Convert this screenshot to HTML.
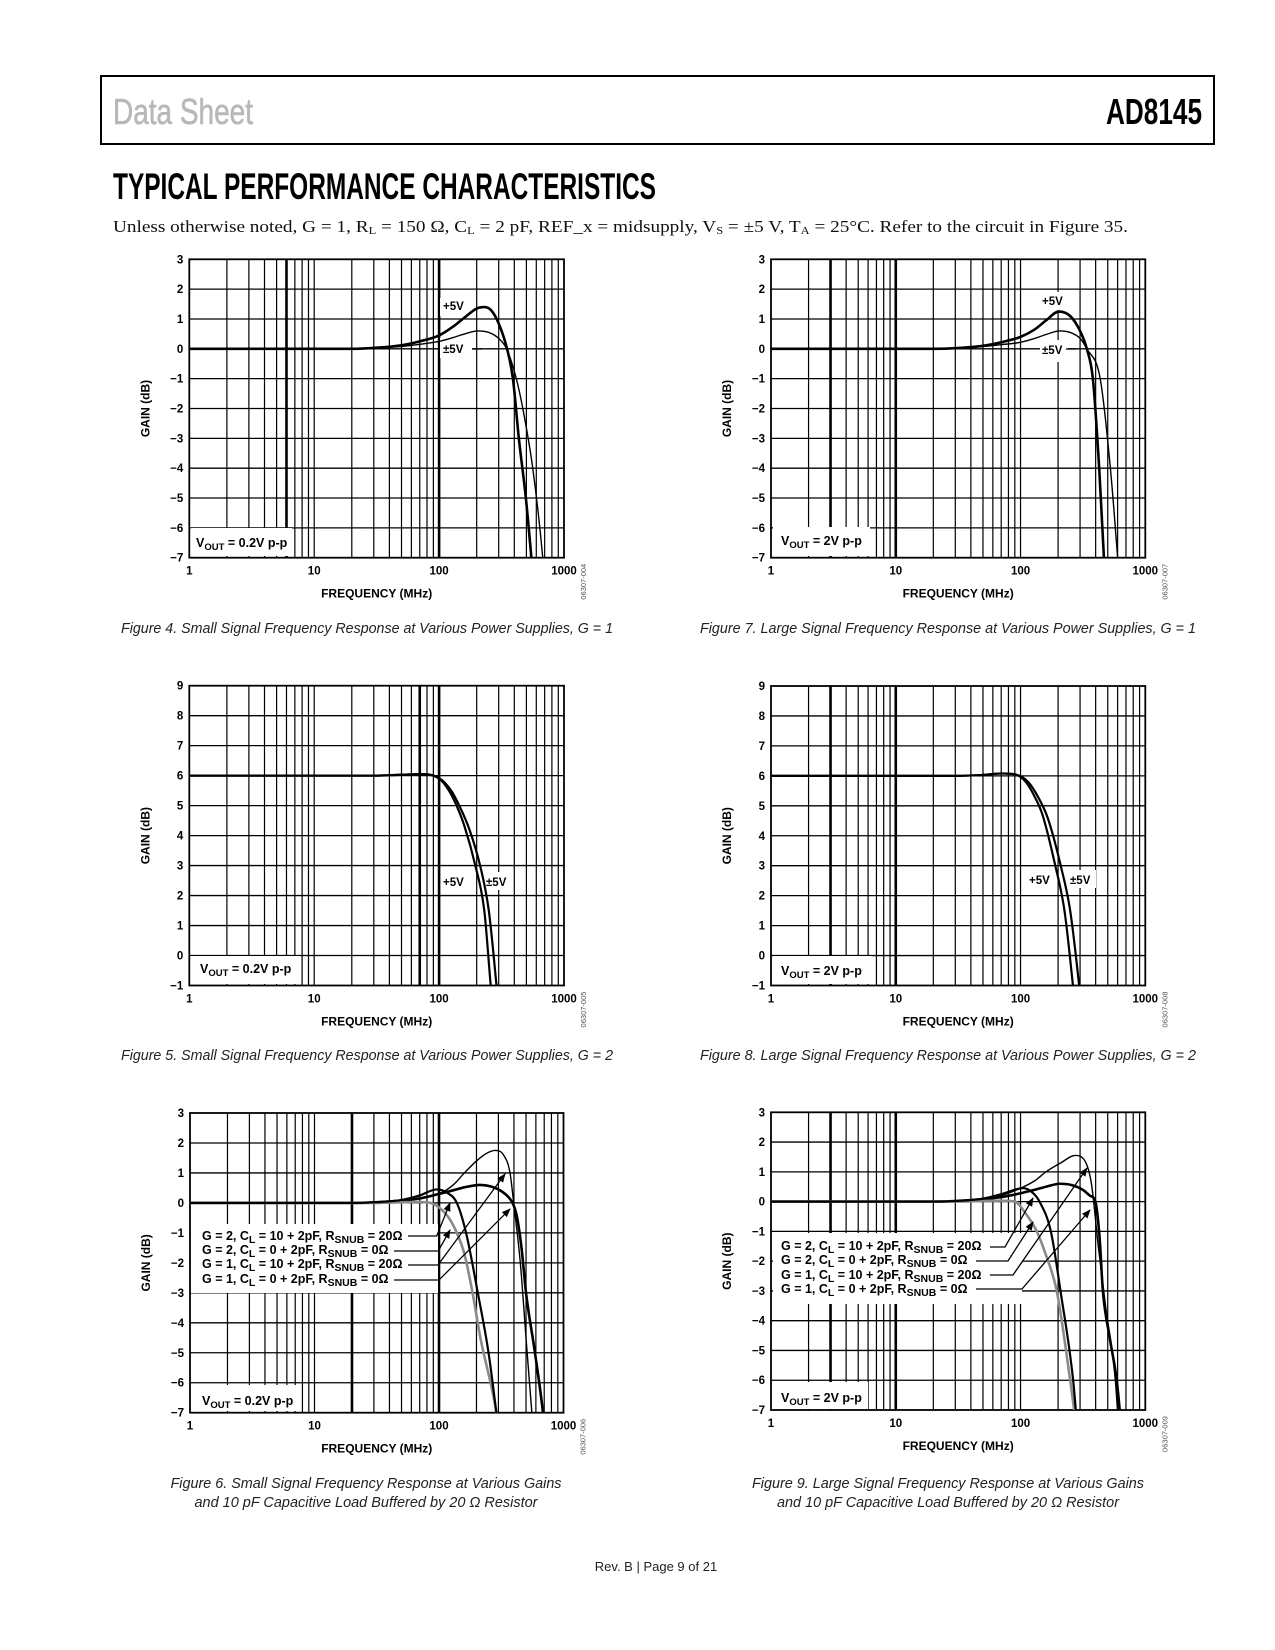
<!DOCTYPE html>
<html><head><meta charset="utf-8"><title>AD8145 Typical Performance Characteristics</title>
<style>
html,body{margin:0;padding:0;background:#fff;}
svg{display:block;}
.tk{font-family:"Liberation Sans",Arial,sans-serif;font-weight:bold;fill:#000;}
.cap{font-family:"Liberation Sans",Arial,sans-serif;font-style:italic;font-size:15px;fill:#222;}
</style></head>
<body>
<svg id="page" xmlns="http://www.w3.org/2000/svg" width="1275" height="1650" viewBox="0 0 1275 1650">
<rect x="0" y="0" width="1275" height="1650" fill="#fff"/>
<rect x="101" y="76" width="1113" height="68" fill="none" stroke="#000" stroke-width="2"/>
<text x="113" y="124" font-family="'Liberation Sans Narrow','Liberation Sans',sans-serif" font-size="36" fill="#b8b8b8" stroke="#b8b8b8" stroke-width="0.6" textLength="140" lengthAdjust="spacingAndGlyphs">Data Sheet</text>
<text x="1106" y="124" font-family="'Liberation Sans Narrow','Liberation Sans',sans-serif" font-weight="bold" font-size="36" fill="#000" textLength="96" lengthAdjust="spacingAndGlyphs">AD8145</text>
<text x="113" y="199" font-family="'Liberation Sans Narrow','Liberation Sans',sans-serif" font-weight="bold" font-size="37" fill="#000" textLength="543" lengthAdjust="spacingAndGlyphs">TYPICAL PERFORMANCE CHARACTERISTICS</text>
<text x="113" y="232" font-family="'Liberation Serif',serif" font-size="17" fill="#111" textLength="1015" lengthAdjust="spacingAndGlyphs">Unless otherwise noted, G = 1, R<tspan font-size="11" dy="2">L</tspan><tspan dy="-2"> = 150 Ω, C</tspan><tspan font-size="11" dy="2">L</tspan><tspan dy="-2"> = 2 pF, REF_x = midsupply, V</tspan><tspan font-size="11" dy="2">S</tspan><tspan dy="-2"> = ±5 V, T</tspan><tspan font-size="11" dy="2">A</tspan><tspan dy="-2"> = 25°C. Refer to the circuit in Figure 35.</tspan></text>

<text class="cap" x="367" y="633" text-anchor="middle" textLength="492" lengthAdjust="spacingAndGlyphs">Figure 4. Small Signal Frequency Response at Various Power Supplies, G = 1</text>
<text class="cap" x="948" y="633" text-anchor="middle" textLength="496" lengthAdjust="spacingAndGlyphs">Figure 7. Large Signal Frequency Response at Various Power Supplies, G = 1</text>
<text class="cap" x="367" y="1060" text-anchor="middle" textLength="492" lengthAdjust="spacingAndGlyphs">Figure 5. Small Signal Frequency Response at Various Power Supplies, G = 2</text>
<text class="cap" x="948" y="1060" text-anchor="middle" textLength="496" lengthAdjust="spacingAndGlyphs">Figure 8. Large Signal Frequency Response at Various Power Supplies, G = 2</text>
<text class="cap" x="366" y="1488" text-anchor="middle" textLength="391" lengthAdjust="spacingAndGlyphs">Figure 6. Small Signal Frequency Response at Various Gains</text>
<text class="cap" x="366" y="1507" text-anchor="middle" textLength="343" lengthAdjust="spacingAndGlyphs">and 10 pF Capacitive Load Buffered by 20 Ω Resistor</text>
<text class="cap" x="948" y="1488" text-anchor="middle" textLength="392" lengthAdjust="spacingAndGlyphs">Figure 9. Large Signal Frequency Response at Various Gains</text>
<text class="cap" x="948" y="1507" text-anchor="middle" textLength="342" lengthAdjust="spacingAndGlyphs">and 10 pF Capacitive Load Buffered by 20 Ω Resistor</text>
<text x="656" y="1571" text-anchor="middle" font-family="'Liberation Sans',sans-serif" font-size="13" fill="#222">Rev. B | Page 9 of 21</text>
<defs>
<marker id="arr" viewBox="0 0 10 10" refX="9" refY="5" markerWidth="9" markerHeight="9" markerUnits="userSpaceOnUse" orient="auto"><path d="M0,1 L10,5 L0,9 z" fill="#000"/></marker>
</defs>
</svg>
<script>
// ---------- data ----------
const xTickLabels = ['1','10','100','1000'];
const yTicksA = [3,2,1,0,-1,-2,-3,-4,-5,-6,-7];
const yTicksB = [9,8,7,6,5,4,3,2,1,0,-1];

// Figure 4
const f4PlusF  = [1,10,20,30,50,70,100,130,160,200,230,260,300,350,390,435,495,548,600];
const f4PlusG  = [0,0,0,0.03,0.12,0.25,0.45,0.75,1.05,1.35,1.4,1.3,0.85,0,-1,-3,-5,-7,-9];
const f4PmF    = [1,10,20,30,50,70,100,130,160,204,250,300,347,415,468,562,676,720];
const f4PmG    = [0,0,0,0.02,0.08,0.15,0.25,0.38,0.5,0.6,0.55,0.35,0,-1,-2,-4,-7,-8.5];
// Figure 7
const f7PlusF  = [1,10,20,30,50,70,100,130,160,203,250,300,340,380,427,466,500];
const f7PlusG  = [0,0,0,0.02,0.1,0.22,0.4,0.65,0.95,1.25,1.1,0.6,0,-1,-4,-7,-9];
const f7PmF    = [1,10,20,30,50,70,100,130,160,205,250,300,340,435,525,600,650];
const f7PmG    = [0,0,0,0.02,0.08,0.14,0.22,0.35,0.48,0.6,0.55,0.35,0,-1,-4,-7,-9];
// Figure 5
const f5PlusF  = [1,10,30,50,70,100,120,138,160,195,230,259,280];
const f5PlusG  = [6,6,6,6.03,6.05,5.9,5.5,5.0,4.3,3,1.5,-1,-2.5];
const f5PmF    = [1,10,30,50,70,100,125,145,175,213,250,288,310];
const f5PmG    = [6,6,6,6.03,6.05,5.92,5.5,5.0,4.2,3,1.5,-1,-2.5];
// Figure 8
const f8PlusF  = [1,10,30,50,70,90,110,130,150,190,225,263,285];
const f8PlusG  = [6,6,6,6.03,6.08,6.05,5.8,5.3,4.7,3,1.5,-1,-2.5];
const f8PmF    = [1,10,30,50,70,90,115,138,165,210,250,295,320];
const f8PmG    = [6,6,6,6.03,6.08,6.05,5.8,5.3,4.6,3,1.5,-1,-2.5];
// Figure 6
const f6G2C10F = [1,10,20,30,50,70,96,115,139,165,205,250,289,310];
const f6G2C10G = [0,0,0,0.02,0.1,0.25,0.45,0.35,0,-1,-3,-5,-7,-8];
const f6G2C0F  = [1,10,20,30,50,70,85,100,120,139,160,186,215,289,310];
const f6G2C0G  = [0,0,0,0,0.02,0.03,0,-0.15,-0.5,-1,-1.7,-3,-4.5,-7,-8];
const f6G1C10F = [1,10,20,30,50,70,100,130,160,200,240,282,330,372,398,450,500,557,600];
const f6G1C10G = [0,0,0,0.02,0.08,0.15,0.3,0.6,1.0,1.4,1.65,1.75,1.6,1.0,0,-2,-4.5,-7,-8.5];
const f6G1C0F  = [1,10,20,30,50,70,100,130,160,214,260,320,360,390,420,460,500,590,684,720];
const f6G1C0G  = [0,0,0,0.02,0.08,0.15,0.3,0.42,0.52,0.6,0.55,0.38,0.2,0,-0.4,-1.5,-3,-5,-7,-8];
// Figure 9
const f9G2C10F = [1,10,20,30,50,70,105,125,142,175,209,264,290];
const f9G2C10G = [0,0,0,0.02,0.1,0.25,0.45,0.3,0,-1,-3,-6,-8];
const f9G2C0F  = [1,10,30,50,70,90,110,135,160,195,250,290];
const f9G2C0G  = [0,0,0,0.02,0.03,0,-0.4,-1,-1.8,-3,-6,-8];
const f9G1C10F = [1,10,20,30,50,70,100,130,160,210,275,330,370,420,480,575,620];
const f9G1C10G = [0,0,0,0.02,0.1,0.2,0.45,0.7,1.0,1.3,1.55,1.35,0.6,-1.5,-3.5,-6,-8];
const f9G1C0F  = [1,10,20,30,50,70,100,130,160,207,260,320,360,398,430,457,520,590,640];
const f9G1C0G  = [0,0,0,0.02,0.08,0.15,0.28,0.4,0.5,0.6,0.55,0.38,0.2,0,-1.2,-3,-4.6,-6,-7.5];

// ---------- drawing ----------
const NS='http://www.w3.org/2000/svg';
const svg=document.getElementById('page');
function mk(tag,attrs,parent){const e=document.createElementNS(NS,tag);for(const k in attrs)e.setAttribute(k,attrs[k]);(parent||svg).appendChild(e);return e;}
function smooth(p){
  const n=p.length, d=[], m=new Array(n);
  for(let i=0;i<n-1;i++)d.push((p[i+1][1]-p[i][1])/(p[i+1][0]-p[i][0]));
  m[0]=d[0]; m[n-1]=d[n-2];
  for(let i=1;i<n-1;i++){ m[i]=(d[i-1]*d[i]<=0)?0:(d[i-1]+d[i])/2; }
  for(let i=0;i<n-1;i++){
    if(d[i]===0){m[i]=0;m[i+1]=0;continue;}
    const a=m[i]/d[i], b=m[i+1]/d[i], s=a*a+b*b;
    if(s>9){const t=3/Math.sqrt(s);m[i]=t*a*d[i];m[i+1]=t*b*d[i];}
  }
  let s='M'+p[0][0].toFixed(2)+','+p[0][1].toFixed(2);
  for(let i=0;i<n-1;i++){
    const h=(p[i+1][0]-p[i][0])/3;
    s+=' C'+(p[i][0]+h).toFixed(2)+','+(p[i][1]+m[i]*h).toFixed(2)+' '+(p[i+1][0]-h).toFixed(2)+','+(p[i+1][1]-m[i+1]*h).toFixed(2)+' '+p[i+1][0].toFixed(2)+','+p[i+1][1].toFixed(2);
  }
  return s;
}
let clipId=0;
function drawChart(c){
  const g=mk('g',{});
  
  
  const lx=f=>c.x0+Math.log10(f)*(c.x1-c.x0)/3;
  const ly=v=>c.y0+(c.ymax-v)*(c.y1-c.y0)/(c.ymax-c.ymin);
  const grid=mk('g',{stroke:'#000'},g);
  
  
  for(let k=0;k<3;k++){for(let m=1;m<=9;m++){
    if(k===0&&m===1)continue;
    const f=m*Math.pow(10,k);
    const thick=c.thick.indexOf(f)>=0;
    const ln=mk('line',{x1:lx(f),x2:lx(f),y1:c.y0,y2:c.y1,'stroke-width':thick?2.6:1.2},grid);
    
    
  }}
  const yt=c.yTicks;
  for(const v of yt){
    if(v!==c.ymin&&v!==c.ymax){
      const ln=mk('line',{x1:c.x0,x2:c.x1,y1:ly(v),y2:ly(v),'stroke-width':1.3},grid);
      
      
    }
    const t=mk('text',{x:c.x0-6,y:ly(v)+4,'text-anchor':'end',class:'tk',style:'font-size:11.5px'},g);
    t.textContent=(v<0?'\u2212'+(-v):String(v));
    
    
  }
  xTickLabels.forEach((s,i)=>{
    const t=mk('text',{x:lx(Math.pow(10,i)),y:c.y1+17,'text-anchor':'middle',class:'tk',style:'font-size:11.5px'},g);
    t.textContent=s;
    
    
  });
  for(const b of c.boxes){
    const r=mk('rect',{x:b[0],y:b[1],width:b[2]-b[0],height:b[3]-b[1],fill:'#fff'},g);
    
    
  }
  const fr=mk('rect',{x:c.x0,y:c.y0,width:c.x1-c.x0,height:c.y1-c.y0,fill:'none',stroke:'#000','stroke-width':1.8},g);
  
  
  const id='clip'+(clipId++);
  const cp=mk('clipPath',{id:id},g);
  mk('rect',{x:c.x0,y:c.y0,width:c.x1-c.x0,height:c.y1-c.y0},cp);
  for(const s of c.series){
    const pts=s.f.map((f,i)=>[lx(f),ly(s.g[i])]);
    const p=mk('path',{d:smooth(pts),fill:'none',stroke:s.color||'#000','stroke-width':s.w,'clip-path':'url(#'+id+')','stroke-linejoin':'round'},g);
    
    
  }
  for(const a of c.texts){
    const t=mk('text',{x:a[0],y:a[1],class:'tk',style:'font-size:'+(a[3]||12)+'px'},g);
    t.innerHTML=a[2];
    
    
  }
  for(const l of c.lines){
    const attrs={points:l.pts.map(p=>p.join(',')).join(' '),fill:'none',stroke:'#000','stroke-width':1.3};
    if(l.arrow)attrs['marker-end']='url(#arr)';
    const pl=mk('polyline',attrs,g);
    
    
  }
  const xt=mk('text',{x:(c.x0+c.x1)/2,y:c.y1+40,'text-anchor':'middle',class:'tk',style:'font-size:12px'},g);
  xt.textContent='FREQUENCY (MHz)';
  
  
  const ycx=c.x0-40,ycy=(c.y0+c.y1)/2;
  const ytt=mk('text',{x:ycx,y:ycy,'text-anchor':'middle',class:'tk',style:'font-size:12px',transform:'rotate(-90 '+ycx+' '+ycy+')'},g);
  ytt.textContent='GAIN (dB)';
  
  
  const ix=c.x1+22,iy=c.y1+24;
  const idt=mk('text',{x:ix,y:iy,'text-anchor':'middle','font-family':'Liberation Sans, sans-serif','font-size':7.5,fill:'#555',transform:'rotate(-90 '+ix+' '+iy+')'},g);
  idt.textContent=c.fig;
  
  
}
const V=(s)=>'V<tspan dy="3" style="font-size:9.5px">OUT</tspan><tspan dy="-3"> = '+s+'</tspan>';
const LG=(g,c,r)=>'G = '+g+', C<tspan dy="3" style="font-size:10.5px">L</tspan><tspan dy="-3"> = '+c+' + 2pF, R</tspan><tspan dy="3" style="font-size:10.5px">SNUB</tspan><tspan dy="-3"> = '+r+'Ω</tspan>';
const TH=2.6, TN=1.4;

drawChart({name:'figure-4-chart',fig:'06307-004',x0:189.3,x1:564,y0:259.3,y1:557.7,ymin:-7,ymax:3,yTicks:yTicksA,thick:[6,100],
  boxes:[[191,528,292,556],[440,298,470,316],[440,338,472,358]],
  series:[{name:'series-plus-5v',f:f4PlusF,g:f4PlusG,w:TH},{name:'series-pm-5v',f:f4PmF,g:f4PmG,w:TN}],
  texts:[[196,547,V('0.2V p-p'),12.5,'vout-label'],[443,310,'+5V',11.5,'label-plus-5v'],[443,353,'±5V',11.5,'label-pm-5v']],
  lines:[{pts:[[472,349],[482,349]]}]});
drawChart({name:'figure-7-chart',fig:'06307-007',x0:771,x1:1145.3,y0:259.3,y1:557.7,ymin:-7,ymax:3,yTicks:yTicksA,thick:[3,10],
  boxes:[[773,527,870,556],[1040,292,1066,310],[1040,340,1068,362]],
  series:[{name:'series-plus-5v',f:f7PlusF,g:f7PlusG,w:TH},{name:'series-pm-5v',f:f7PmF,g:f7PmG,w:TN}],
  texts:[[781,545,V('2V p-p'),12.5,'vout-label'],[1042,305,'+5V',11.5,'label-plus-5v'],[1042,354,'±5V',11.5,'label-pm-5v']],
  lines:[{pts:[[1066,349],[1076,349]]}]});
drawChart({name:'figure-5-chart',fig:'06307-005',x0:189.3,x1:564,y0:685.7,y1:985.5,ymin:-1,ymax:9,yTicks:yTicksB,thick:[70,100],
  boxes:[[191,956,300,984],[441,872,468,890],[484,872,512,890]],
  series:[{name:'series-plus-5v',f:f5PlusF,g:f5PlusG,w:2.2},{name:'series-pm-5v',f:f5PmF,g:f5PmG,w:2.2}],
  texts:[[200,973,V('0.2V p-p'),12.5,'vout-label'],[443,886,'+5V',11.5,'label-plus-5v'],[486,886,'±5V',11.5,'label-pm-5v']],
  lines:[]});
drawChart({name:'figure-8-chart',fig:'06307-008',x0:771,x1:1145.3,y0:686,y1:985.5,ymin:-1,ymax:9,yTicks:yTicksB,thick:[3,10],
  boxes:[[773,956,872,984],[1026,870,1053,888],[1068,870,1096,888]],
  series:[{name:'series-plus-5v',f:f8PlusF,g:f8PlusG,w:2.2},{name:'series-pm-5v',f:f8PmF,g:f8PmG,w:2.2}],
  texts:[[781,975,V('2V p-p'),12.5,'vout-label'],[1029,884,'+5V',11.5,'label-plus-5v'],[1070,884,'±5V',11.5,'label-pm-5v']],
  lines:[]});
drawChart({name:'figure-6-chart',fig:'06307-006',x0:190,x1:563.5,y0:1113,y1:1412.7,ymin:-7,ymax:3,yTicks:yTicksA,thick:[20,100],
  boxes:[[191,1224,438,1293],[191,1385,300,1411]],
  series:[{name:'series-g1-cl0',f:f6G1C0F,g:f6G1C0G,w:TH},{name:'series-g1-cl10',f:f6G1C10F,g:f6G1C10G,w:TN},
          {name:'series-g2-cl0',f:f6G2C0F,g:f6G2C0G,w:TH,color:'#8a8a8a'},{name:'series-g2-cl10',f:f6G2C10F,g:f6G2C10G,w:2.2}],
  texts:[[202,1240,LG(2,10,20),12.5,'legend-g2-cl10'],[202,1254,LG(2,0,0),12.5,'legend-g2-cl0'],
         [202,1268,LG(1,10,20),12.5,'legend-g1-cl10'],[202,1283,LG(1,0,0),12.5,'legend-g1-cl0'],
         [202,1405,V('0.2V p-p'),12.5,'vout-label']],
  lines:[{pts:[[408,1236],[436.7,1236],[450,1203]],arrow:1},{pts:[[394,1251],[438.3,1251],[450,1230]],arrow:1},
         {pts:[[408,1265],[438,1265],[505,1174]],arrow:1},{pts:[[394,1280],[439,1280],[510,1209]],arrow:1}]});
drawChart({name:'figure-9-chart',fig:'06307-009',x0:771,x1:1145.3,y0:1112.3,y1:1410,ymin:-7,ymax:3,yTicks:yTicksA,thick:[3,10],
  boxes:[[773,1233,1022,1304],[773,1382,868,1409]],
  series:[{name:'series-g1-cl0',f:f9G1C0F,g:f9G1C0G,w:TH},{name:'series-g1-cl10',f:f9G1C10F,g:f9G1C10G,w:TN},
          {name:'series-g2-cl0',f:f9G2C0F,g:f9G2C0G,w:TH,color:'#8a8a8a'},{name:'series-g2-cl10',f:f9G2C10F,g:f9G2C10G,w:2.2}],
  texts:[[781,1250,LG(2,10,20),12.5,'legend-g2-cl10'],[781,1264,LG(2,0,0),12.5,'legend-g2-cl0'],
         [781,1279,LG(1,10,20),12.5,'legend-g1-cl10'],[781,1293,LG(1,0,0),12.5,'legend-g1-cl0'],
         [781,1402,V('2V p-p'),12.5,'vout-label']],
  lines:[{pts:[[990,1247],[1005,1247],[1033,1198]],arrow:1},{pts:[[976,1261],[1008,1261],[1033,1222]],arrow:1},
         {pts:[[990,1275],[1013,1275],[1087,1168]],arrow:1},{pts:[[976,1289],[1022,1289],[1090,1210]],arrow:1}]});
</script>
</body></html>
